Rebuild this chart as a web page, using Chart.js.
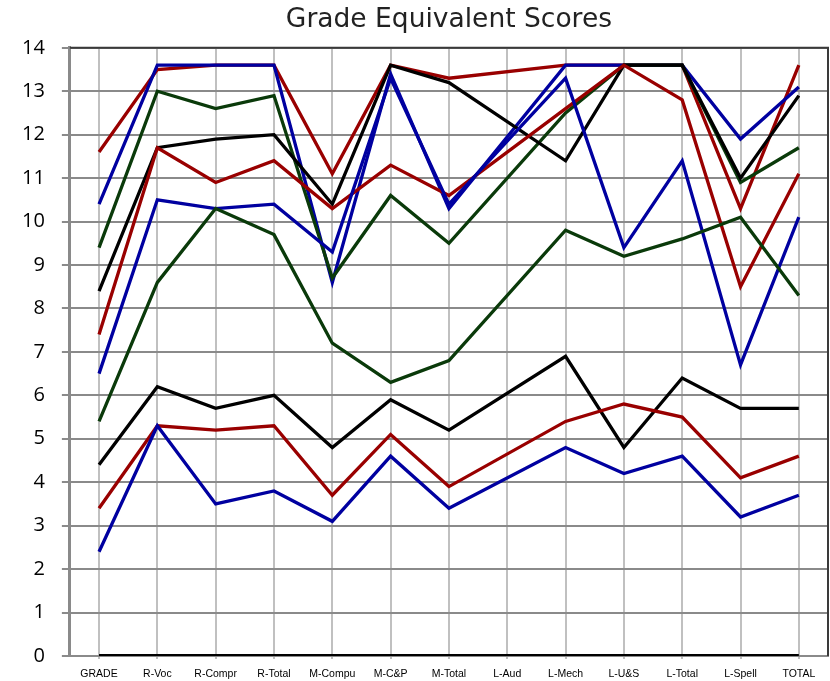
<!DOCTYPE html>
<html lang="en">
<head>
    <meta charset="UTF-8">
    <title>Grade Equivalent Scores</title>
    <script src="https://cdn.jsdelivr.net/npm/chart.js"></script>
    <style>
        html, body { margin: 0; padding: 0; background: #fff; }
        #wrap { width: 830px; height: 681px; position: relative; }
    </style>
</head>
<body>
    <div id="wrap"><canvas id="gradeChart"></canvas></div>

    <script>
        // categories on the x axis
        const categories = ['GRADE', 'R-Voc', 'R-Compr', 'R-Total', 'M-Compu', 'M-C&P', 'M-Total',
                            'L-Aud', 'L-Mech', 'L-U&S', 'L-Total', 'L-Spell', 'TOTAL'];

        // grade equivalent scores (L-Aud has no value)
        const redA   = [11.6, 13.5, 13.6, 13.6, 11.1, 13.6, 13.3, null, 13.6, 13.6, 13.6, 10.3, 13.6];
        const blueA  = [10.4, 13.6, 13.6, 13.6,  8.6, 13.4, 10.3, null, 13.6, 13.6, 13.6, 11.9, 13.1];
        const greenA = [ 9.4, 13.0, 12.6, 12.9,  8.7, 10.6,  9.5, null, 12.5, 13.6, 13.6, 10.9, 11.7];
        const blackA = [ 8.4, 11.7, 11.9, 12.0, 10.4, 13.6, 13.2, null, 11.4, 13.6, 13.6, 11.0, 12.9];
        const redB   = [ 7.4, 11.7, 10.9, 11.4, 10.3, 11.3, 10.6, null, 12.6, 13.6, 12.8,  8.5, 11.1];
        const blueB  = [ 6.5, 10.5, 10.3, 10.4,  9.3, 13.3, 10.4, null, 13.3,  9.4, 11.4,  6.7, 10.1];
        const greenB = [ 5.4,  8.6, 10.3,  9.7,  7.2,  6.3,  6.8, null,  9.8,  9.2,  9.6, 10.1,  8.3];
        const blackB = [ 4.4,  6.2,  5.7,  6.0,  4.8,  5.9,  5.2, null,  6.9,  4.8,  6.4,  5.7,  5.7];
        const redC   = [ 3.4,  5.3,  5.2,  5.3,  3.7,  5.1,  3.9, null,  5.4,  5.8,  5.5,  4.1,  4.6];
        const blueC  = [ 2.4,  5.3,  3.5,  3.8,  3.1,  4.6,  3.4, null,  4.8,  4.2,  4.6,  3.2,  3.7];
        const zeroRow = [0, 0, 0, 0, 0, 0, 0, 0, 0, 0, 0, 0, 0];

        const RED = '#990000';
        const BLUE = '#0000a0';
        const GREEN = '#0a3a0a';
        const BLACK = '#000000';

        function line(data, color, width) {
            return {
                data: data,
                borderColor: color,
                backgroundColor: color,
                borderWidth: width || 3.3,
                pointRadius: 0,
                tension: 0,
                spanGaps: true,
                fill: false
            };
        }

        // first dataset is drawn on top in Chart.js, so list them top-most first
        const datasets = [
            line(zeroRow, BLACK, 4),
            line(blueC, BLUE),
            line(redC, RED),
            line(blackB, BLACK),
            line(greenB, GREEN),
            line(blueB, BLUE),
            line(redB, RED),
            line(blackA, BLACK),
            line(greenA, GREEN),
            line(blueA, BLUE),
            line(redA, RED)
        ];

        // dark frame on the top and right of the plot area
        const frame = {
            id: 'frame',
            beforeDatasetsDraw(chart) {
                const { ctx, chartArea: a } = chart;
                ctx.save();
                ctx.strokeStyle = '#3a3a3a';
                ctx.lineWidth = 2;
                ctx.beginPath();
                ctx.moveTo(a.left, a.top);
                ctx.lineTo(a.right, a.top);
                ctx.lineTo(a.right, a.bottom);
                ctx.stroke();
                ctx.restore();
            }
        };

        new Chart(document.getElementById('gradeChart'), {
            type: 'line',
            data: { labels: categories, datasets: datasets },
            plugins: [frame],
            options: {
                responsive: true,
                maintainAspectRatio: false,
                animation: false,
                layout: { padding: { left: 5, right: 2, bottom: 0 } },
                plugins: {
                    legend: { display: false },
                    tooltip: { enabled: false },
                    title: {
                        display: true,
                        text: 'Grade Equivalent Scores',
                        fullSize: false,
                        color: '#222',
                        font: { family: 'DejaVu Sans', size: 26.5, weight: 'normal' },
                        padding: { top: 4, bottom: 12 }
                    }
                },
                scales: {
                    x: {
                        offset: true,
                        afterFit(scale) { scale.height = 25; },
                        grid: {
                            offset: false,
                            color: '#c0c0c0',
                            lineWidth: 2,
                            tickLength: 3
                        },
                        border: { color: '#8a8a8a', width: 2 },
                        ticks: {
                            autoSkip: false,
                            maxRotation: 0,
                            padding: 9,
                            color: '#000',
                            font: { family: "'Liberation Sans Narrow', 'Liberation Sans'", size: 10.5 }
                        }
                    },
                    y: {
                        min: 0,
                        max: 14,
                        // tick padding would otherwise also pad the top and bottom of the plot
                        afterFit(scale) { scale.paddingTop = 12; scale.paddingBottom = 12; },
                        ticks: {
                            stepSize: 1,
                            padding: 17,
                            color: '#000',
                            font: { family: "'Open Sans'", size: 20 }
                        },
                        grid: {
                            color: '#8a8a8a',
                            lineWidth: 2,
                            tickLength: 8
                        },
                        border: { color: '#8a8a8a', width: 3 }
                    }
                }
            }
        });
    </script>
</body>
</html>
